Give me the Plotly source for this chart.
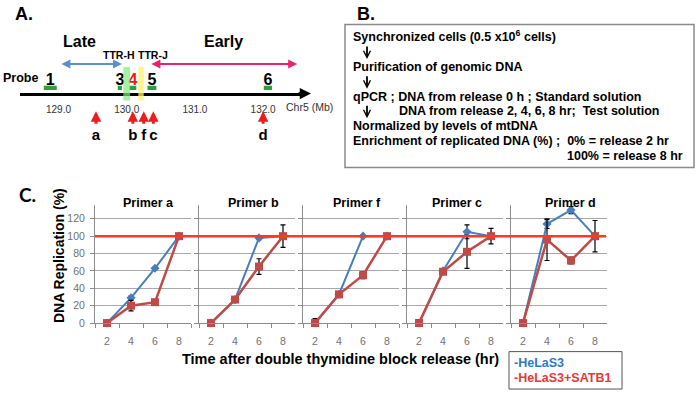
import plotly.graph_objects as go

W, H = 697, 398
def px(x): return x / W
def py(y): return 1 - y / H

FONT = "Liberation Sans, Arial, sans-serif"

# ---------------- Panel C data ----------------
TIMES = [2, 4, 6, 8]
PRIMERS = ["Primer a", "Primer b", "Primer f", "Primer c", "Primer d"]
HELA_A = [0, 29, 63, 100]
HELA_B = [0, 27, 98, 100]
HELA_F = [0, 33, 100, 100]
HELA_C = [0, 60, 105, 100]
HELA_D = [0, 114, 130, 100]
SATB1_A = [0, 20, 24, 100]
SATB1_B = [0, 27, 65, 100]
SATB1_F = [0, 33, 55, 100]
SATB1_C = [0, 59, 82, 100]
SATB1_D = [0, 96, 72, 100]
HELA_ERR_A = [0, 2, 1, 0]
HELA_ERR_B = [0, 0, 2, 0]
HELA_ERR_F = [0, 0, 1, 0]
HELA_ERR_C = [0, 1, 8, 0]
HELA_ERR_D = [0, 5, 4, 0]
SATB1_ERR_A = [0, 6, 0, 2]
SATB1_ERR_B = [0, 2, 9, 13]
SATB1_ERR_F = [5, 2, 4, 1]
SATB1_ERR_C = [4, 1, 19, 9]
SATB1_ERR_D = [0, 24, 4, 18]
REF_LEVEL = 100
Y_TICKS = [0, 20, 40, 60, 80, 100, 120]

HELA = [HELA_A, HELA_B, HELA_F, HELA_C, HELA_D]
SATB1 = [SATB1_A, SATB1_B, SATB1_F, SATB1_C, SATB1_D]
HELA_ERR = [HELA_ERR_A, HELA_ERR_B, HELA_ERR_F, HELA_ERR_C, HELA_ERR_D]
SATB1_ERR = [SATB1_ERR_A, SATB1_ERR_B, SATB1_ERR_F, SATB1_ERR_C, SATB1_ERR_D]

# ---------------- Panel A data ----------------
CHR_TICKS = [129.0, 130.0, 131.0, 132.0]
PROBE_LABELS = ["1", "3", "4", "5", "6"]
PROBE_POS = [128.88, 129.90, 130.09, 130.37, 132.07]
PROBE_LEN = [0.19, 0.06, 0.10, 0.13, 0.12]
PRIMER_LABELS = ["a", "b", "f", "c", "d"]
PRIMER_POS = [129.55, 130.09, 130.25, 130.39, 132.00]
TTR_H = [129.95, 130.05]
TTR_J = [130.17, 130.25]
LATE_SPAN = [129.02, 129.93]
EARLY_SPAN = [130.34, 132.50]

# ---------------- Panel B text ----------------
B_LINES = [
    "Synchronized cells (0.5 x10<sup>6</sup> cells)",
    "Purification of genomic DNA",
    "qPCR ; DNA from release 0 h ; Standard solution",
    "DNA from release 2, 4, 6, 8 hr;  Test solution",
    "Normalized by levels of mtDNA",
    "Enrichment of replicated DNA (%) ;  0% = release 2 hr",
    "100% = release 8 hr",
]

BLUE = "#4a7ebb"
RED = "#be4b48"
GRID = "#a8a8a8"
AXC = "#8c8c8c"

fig = go.Figure()
layout = dict(
    width=W, height=H, autosize=False,
    margin=dict(l=0, r=0, t=0, b=0),
    paper_bgcolor="white", plot_bgcolor="rgba(0,0,0,0)",
    showlegend=False, font=dict(family=FONT, color="black"),
)

# ---------------- Panel C subplots ----------------
SUB_X = [95, 199, 303, 407, 511]
SUB_W = 96
Y_TOP, Y_BOT = 208, 328
for i in range(5):
    xa = "x" if i == 0 else f"x{i+1}"
    ya = "y" if i == 0 else f"y{i+1}"
    fig.add_trace(go.Scatter(
        x=TIMES, y=HELA[i], xaxis=xa, yaxis=ya, mode="lines+markers",
        line=dict(color=BLUE, width=2),
        marker=dict(symbol="diamond", size=7, color=BLUE),
        error_y=dict(type="data", array=HELA_ERR[i], color="black", thickness=1.2, width=2.5),
        cliponaxis=False))
    fig.add_trace(go.Scatter(
        x=TIMES, y=SATB1[i], xaxis=xa, yaxis=ya, mode="lines+markers",
        line=dict(color=RED, width=2.5),
        marker=dict(symbol="square", size=8, color=RED),
        error_y=dict(type="data", array=SATB1_ERR[i], color="black", thickness=1.2, width=2.5),
        cliponaxis=False))
    xk = "xaxis" if i == 0 else f"xaxis{i+1}"
    yk = "yaxis" if i == 0 else f"yaxis{i+1}"
    layout[xk] = dict(
        domain=[px(SUB_X[i]), px(SUB_X[i] + SUB_W)], anchor=ya, type="category",
        range=[-0.5, 3.5], showline=True, linecolor=AXC, linewidth=1,
        ticks="outside", tickson="boundaries", ticklen=4, tickcolor=AXC,
        tickfont=dict(size=10.5, color="#707070"), showgrid=False, zeroline=False,
        ticklabelstandoff=8)
    layout[yk] = dict(
        domain=[py(Y_BOT), py(Y_TOP)], anchor=xa, range=[0, 136],
        tickvals=Y_TICKS, showgrid=True, gridcolor=GRID, gridwidth=1,
        showline=True, linecolor=AXC, linewidth=1, ticks="outside", ticklen=4,
        tickcolor=AXC, showticklabels=(i == 0), zeroline=False,
        tickfont=dict(size=10.5, color="#707070"), ticklabelstandoff=3)

# ---------------- Panel A axis ----------------
def mb(p):
    return 129 + (p - 58.5) / 68.2

layout["xaxis6"] = dict(
    domain=[px(20), px(305)], range=[mb(20), mb(305)], anchor="free", position=py(95),
    showline=True, linecolor="black", linewidth=2.5, ticks="",
    tickvals=CHR_TICKS, ticktext=[f"{v:.1f}" for v in CHR_TICKS],
    tickfont=dict(size=10, color="#333333"), showgrid=False, zeroline=False,
    ticklabelstandoff=6)
layout["yaxis6"] = dict(domain=[py(150), py(20)], range=[150, 20], anchor="x6",
                        visible=False, showgrid=False, zeroline=False)

# probe numbers and primer letters as text traces
fig.add_trace(go.Scatter(
    x=PROBE_POS, y=[82] * len(PROBE_POS), xaxis="x6", yaxis="y6", mode="text",
    text=[f"<b>{t}</b>" for t in PROBE_LABELS],
    textfont=dict(size=16, family=FONT,
                  color=["#e8201a" if t == "4" else "black" for t in PROBE_LABELS]),
    cliponaxis=False))
fig.add_trace(go.Scatter(
    x=PRIMER_POS, y=[138] * len(PRIMER_POS), xaxis="x6", yaxis="y6", mode="text",
    text=[f"<b>{t}</b>" for t in PRIMER_LABELS],
    textfont=dict(size=15, family=FONT, color="black"), cliponaxis=False))

shapes = []
annos = []

# probe bars
for pos, ln in zip(PROBE_POS, PROBE_LEN):
    shapes.append(dict(type="rect", xref="x6", yref="y6", x0=pos - ln / 2, x1=pos + ln / 2,
                       y0=87, y1=91.5, fillcolor="#2f9e3f", line=dict(width=0), layer="above"))
# TTR regions
shapes.append(dict(type="rect", xref="x6", yref="y6", x0=TTR_H[0], x1=TTR_H[1], y0=68, y1=102,
                   fillcolor="rgba(130,235,130,0.7)", line=dict(width=0), layer="above"))
shapes.append(dict(type="rect", xref="x6", yref="y6", x0=TTR_J[0], x1=TTR_J[1], y0=68, y1=102,
                   fillcolor="rgba(255,240,110,0.75)", line=dict(width=0), layer="above"))

# chromosome arrowhead
annos.append(dict(xref="paper", yref="paper", x=px(311), y=py(95), ax=-14, ay=0,
                  showarrow=True, arrowhead=2, arrowsize=0.9, arrowwidth=2.5,
                  arrowcolor="black", text=""))
# late/early arrows
annos.append(dict(xref="x6", yref="y6", x=LATE_SPAN[1], y=65, axref="x6", ayref="y6",
                  ax=LATE_SPAN[0], ay=65, showarrow=True, arrowhead=2, arrowside="end+start",
                  arrowsize=0.9, arrowwidth=2, arrowcolor="#5b8fd0", text=""))
annos.append(dict(xref="x6", yref="y6", x=EARLY_SPAN[1], y=65, axref="x6", ayref="y6",
                  ax=EARLY_SPAN[0], ay=65, showarrow=True, arrowhead=2, arrowside="end+start",
                  arrowsize=0.9, arrowwidth=2, arrowcolor="#e8236b", text=""))
# primer arrows
for pos in PRIMER_POS:
    annos.append(dict(xref="x6", yref="y6", x=pos, y=113, ax=0, ay=14, showarrow=True,
                      arrowhead=2, arrowsize=0.7, arrowwidth=3, arrowcolor="#ee1c1c", text=""))

def T(x, y, text, size, color="black", xanchor="center", bold=True, family=FONT, **kw):
    t = f"<b>{text}</b>" if bold else text
    d = dict(xref="paper", yref="paper", x=px(x), y=py(y), text=t, showarrow=False,
             xanchor=xanchor, yanchor="middle", font=dict(size=size, color=color, family=family))
    d.update(kw)
    annos.append(d)

T(24, 14, "A.", 18)
T(355, 14, "B.", 18, xanchor="left")
T(28, 197, "C.", 19, family="Lato, Open Sans, sans-serif")
T(79, 42, "Late", 16)
T(223.5, 42, "Early", 16)
T(118.5, 56, "TTR-H", 10.5)
T(152.5, 56, "TTR-J", 10.5)
T(20, 79, "Probe", 12.5)
T(309, 109, "Chr5 (Mb)", 10.5, color="#333333", bold=False)

# Panel B box
shapes.append(dict(type="rect", xref="paper", yref="paper", x0=px(345), x1=px(694),
                   y0=py(170), y1=py(25), line=dict(color="#8a8a8a", width=1.5),
                   fillcolor="rgba(0,0,0,0)"))
BX = 351
def down_arrow(y_top, y_bot, x=367):
    annos.append(dict(xref="paper", yref="paper", x=px(x), y=py(y_bot), ax=0, ay=-(y_bot - y_top),
                      showarrow=True, arrowhead=5, arrowsize=0.75, arrowwidth=1.8,
                      arrowcolor="black", text=""))

T(BX, 37, B_LINES[0], 12.5, xanchor="left")
down_arrow(46, 60)
T(BX, 68, B_LINES[1], 12.5, xanchor="left")
down_arrow(76, 90)
T(BX, 98, B_LINES[2], 12.5, xanchor="left")
down_arrow(106, 120)
T(397, 113, B_LINES[3], 12.5, xanchor="left")
T(BX, 128, B_LINES[4], 12.5, xanchor="left")
T(BX, 143, B_LINES[5], 12.5, xanchor="left")
T(685, 158, B_LINES[6], 12.5, xanchor="right")

# Panel C annotations
TITLE_X = [148, 253, 357, 457, 570]
for tx, name in zip(TITLE_X, PRIMERS):
    T(tx, 206, name, 12.5)
T(59, 260, "DNA Replication (%)", 14, textangle=-90)
T(340, 364, "Time after double thymidine block release (hr)", 14.5)

# reference line at 100%
shapes.append(dict(type="line", xref="paper", yref="y", x0=px(95), x1=px(606),
                   y0=REF_LEVEL, y1=REF_LEVEL, line=dict(color="#ff3b1f", width=2.5),
                   layer="above"))

# legend box
shapes.append(dict(type="rect", xref="paper", yref="paper", x0=px(509), x1=px(622),
                   y0=py(395), y1=py(357), line=dict(color="#555555", width=1),
                   fillcolor="white"))
T(512, 369, "-HeLaS3", 12.5, color="#2e78c8", xanchor="left")
T(512, 384, "-HeLaS3+SATB1", 12.5, color="#e03a3a", xanchor="left")

layout["shapes"] = shapes
layout["annotations"] = annos
fig.update_layout(**layout)

fig.write_html("out.html", config={"displayModeBar": False},
               post_script="document.body.style.margin='0';document.body.style.overflow='hidden';")
